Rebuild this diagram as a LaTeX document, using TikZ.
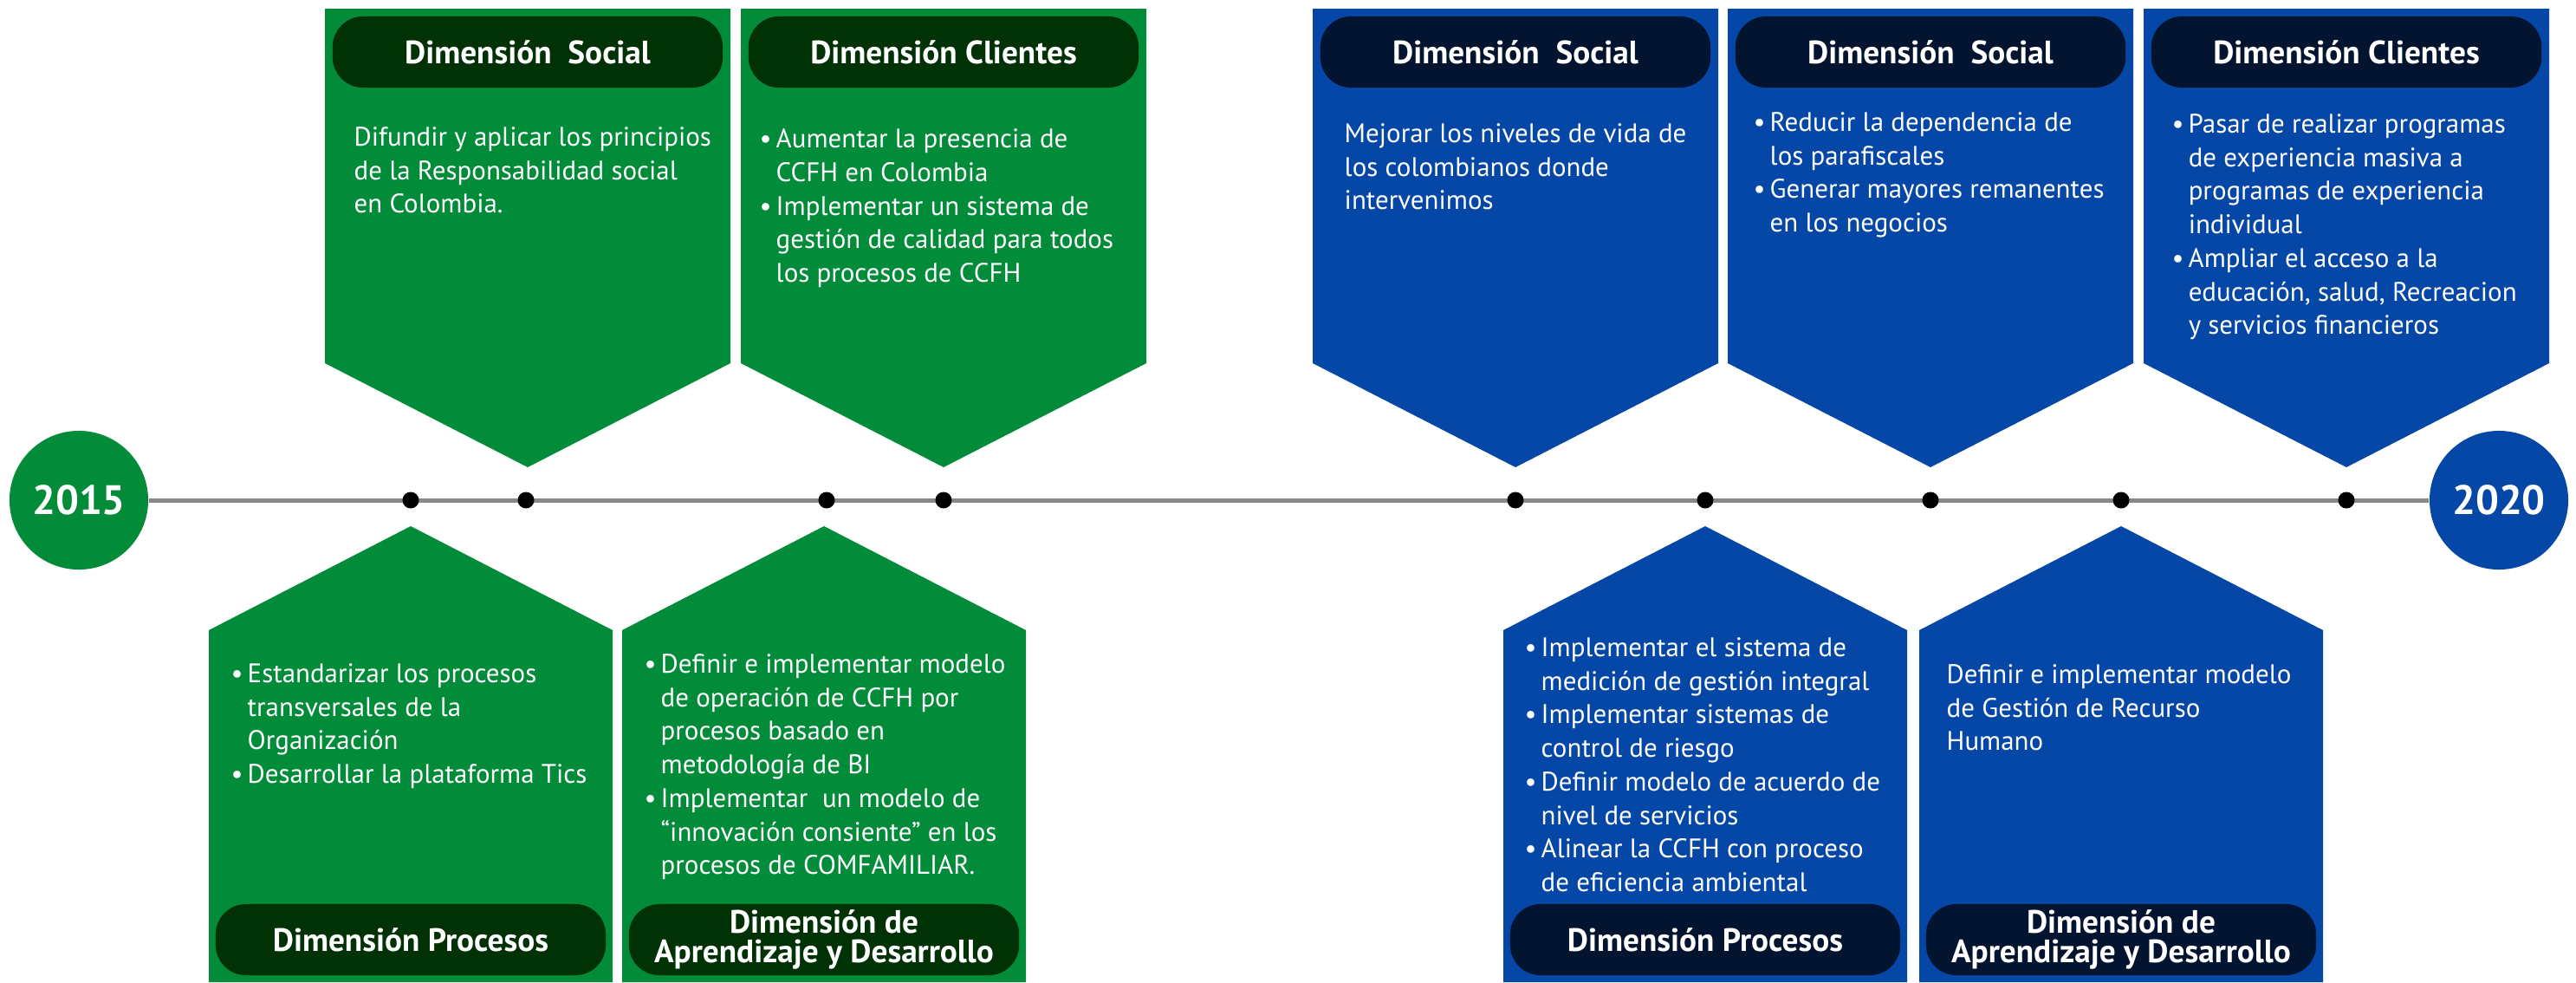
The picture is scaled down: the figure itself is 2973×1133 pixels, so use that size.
\documentclass[tikz,border=0pt]{standalone}
\usepackage{fontspec}
\setmainfont{PT Sans}
\definecolor{verde}{RGB}{2,139,56}
\definecolor{verdeosc}{RGB}{0,50,6}
\definecolor{azul}{RGB}{5,71,166}
\definecolor{azulosc}{RGB}{2,20,48}
\definecolor{gris}{RGB}{136,136,136}
\newcommand{\bul}{\makebox[1.9mm][l]{\textbullet}}
\newcommand{\sang}{\hspace*{1.9mm}}

\begin{document}
\begin{tikzpicture}[x=0.01cm,y=-0.01cm,every node/.style={text=white},
  year/.style={circle,minimum size=1.6cm,inner sep=0pt,font=\bfseries\fontsize{13.5}{16}\selectfont},
  dot/.style={circle,fill=black,inner sep=0pt,minimum size=0.19cm},
  titulo/.style={rounded corners=0.35cm,minimum width=4.5cm,minimum height=0.82cm,inner sep=0pt,align=center,font=\bfseries\fontsize{10.6}{9.6}\selectfont},
  texto/.style={anchor=north west,inner sep=0pt,align=left,font=\fontsize{8.8}{11}\selectfont,execute at begin node=\rule{0pt}{7pt}}]
\useasboundingbox (0,0) rectangle (2973,1133);

% linea de tiempo
\node[year,fill=verde] (y15) at (91,577) {2015};
\node[year,fill=azul]  (y20) at (2884,577) {2020};
\draw[gris,line width=0.05cm] (y15) -- (y20);

\node[dot] (p1) at (474,577) {};
\node[dot] (p2) at (607,577) {};
\node[dot] (p3) at (954,577) {};
\node[dot] (p4) at (1089,577) {};
\node[dot] (p5) at (1749,577) {};
\node[dot] (p6) at (1968,577) {};
\node[dot] (p7) at (2228,577) {};
\node[dot] (p8) at (2448,577) {};
\node[dot] (p9) at (2708,577) {};

% arriba, verde
\fill[verde] (609,539) -- ++(-234,-120) -- ++(0,-409) -- ++(468,0) -- ++(0,409) -- cycle;
\node[titulo,fill=verdeosc] (s1) at (609,60) {Dimensión\ \ Social};
\node[texto] (a1) at (408,146) {Difundir y aplicar los principios\\de la Responsabilidad social\\en Colombia.};

\fill[verde] (1089,539) -- ++(-234,-120) -- ++(0,-409) -- ++(468,0) -- ++(0,409) -- cycle;
\node[titulo,fill=verdeosc] (s2) at (1089,60) {Dimensión Clientes};
\node[texto] (a2) at (876,148) {\bul Aumentar la presencia de\\ \sang CCFH en Colombia\\ \bul Implementar un sistema de\\ \sang gestión de calidad para todos\\ \sang los procesos de CCFH};

% abajo, verde
\fill[verde] (474,607) -- ++(-233,120) -- ++(0,406) -- ++(466,0) -- ++(0,-406) -- cycle;
\node[titulo,fill=verdeosc] (s3) at (474,1084) {Dimensión Procesos};
\node[texto] (a3) at (266,765) {\bul Estandarizar los procesos\\ \sang transversales de la\\ \sang Organización\\ \bul Desarrollar la plataforma Tics};

\fill[verde] (951,607) -- ++(-233,120) -- ++(0,406) -- ++(466,0) -- ++(0,-406) -- cycle;
\node[titulo,fill=verdeosc] (s4) at (951,1084) {Dimensión de\\Aprendizaje y Desarrollo};
\node[texto] (a4) at (743,754) {\bul Definir e implementar modelo\\ \sang de operación de CCFH por\\ \sang procesos basado en\\ \sang metodología de BI\\ \bul Implementar\ \ un modelo de\\ \sang “innovación consiente” en los\\ \sang procesos de COMFAMILIAR.};

% arriba, azul
\fill[azul] (1749,539) -- ++(-234,-120) -- ++(0,-409) -- ++(468,0) -- ++(0,409) -- cycle;
\node[titulo,fill=azulosc] (s5) at (1749,60) {Dimensión\ \ Social};
\node[texto] (a5) at (1551,142) {Mejorar los niveles de vida de\\los colombianos donde\\intervenimos};

\fill[azul] (2228,539) -- ++(-234,-120) -- ++(0,-409) -- ++(468,0) -- ++(0,409) -- cycle;
\node[titulo,fill=azulosc] (s6) at (2228,60) {Dimensión\ \ Social};
\node[texto] (a6) at (2023,129) {\bul Reducir la dependencia de\\ \sang los parafiscales\\ \bul Generar mayores remanentes\\ \sang en los negocios};

\fill[azul] (2708,539) -- ++(-234,-120) -- ++(0,-409) -- ++(468,0) -- ++(0,409) -- cycle;
\node[titulo,fill=azulosc] (s7) at (2708,60) {Dimensión Clientes};
\node[texto] (a7) at (2506,131) {\bul Pasar de realizar programas\\ \sang de experiencia masiva a\\ \sang programas de experiencia\\ \sang individual\\ \bul Ampliar el acceso a la\\ \sang educación, salud, Recreacion\\ \sang y servicios financieros};

% abajo, azul
\fill[azul] (1968,607) -- ++(-233,120) -- ++(0,406) -- ++(466,0) -- ++(0,-406) -- cycle;
\node[titulo,fill=azulosc] (s8) at (1968,1084) {Dimensión Procesos};
\node[texto] (a8) at (1759,735) {\bul Implementar el sistema de\\ \sang medición de gestión integral\\ \bul Implementar sistemas de\\ \sang control de riesgo\\ \bul Definir modelo de acuerdo de\\ \sang nivel de servicios\\ \bul Alinear la CCFH con proceso\\ \sang de eficiencia ambiental};

\fill[azul] (2448,607) -- ++(-233,120) -- ++(0,406) -- ++(466,0) -- ++(0,-406) -- cycle;
\node[titulo,fill=azulosc] (s9) at (2448,1084) {Dimensión de\\Aprendizaje y Desarrollo};
\node[texto] (a9) at (2246,766) {Definir e implementar modelo\\de Gestión de Recurso\\Humano};

\end{tikzpicture}
\end{document}
